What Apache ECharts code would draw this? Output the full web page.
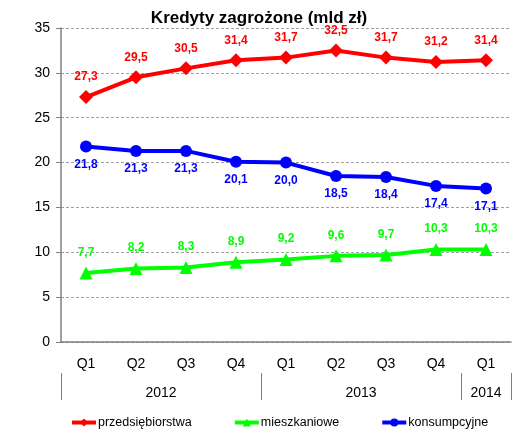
<!DOCTYPE html>
<html>
<head>
<meta charset="utf-8">
<script src="https://cdn.jsdelivr.net/npm/echarts@6/dist/echarts.min.js"></script>
<style>
  html, body { margin: 0; padding: 0; background: #fff; }
  #chart { width: 527px; height: 430px; }
</style>
</head>
<body>
<div id="chart"></div>
<script>
// Quarters and the year rows under them
const quarters = ['Q1', 'Q2', 'Q3', 'Q4', 'Q1', 'Q2', 'Q3', 'Q4', 'Q1'];
// Year row on a half-quarter grid: 19 points spanning the 9 quarters
const yearSlots = ['', '', '', '', '2012', '', '', '', '', '', '', '', '2013', '', '', '', '', '2014', ''];
const yearLabelIdx = [4, 12, 17];
const yearTickIdx = [0, 8, 16, 18];

// Values in mld zł
const przedsiebiorstwa = [27.3, 29.5, 30.5, 31.4, 31.7, 32.5, 31.7, 31.2, 31.4];
const mieszkaniowe = [7.7, 8.2, 8.3, 8.9, 9.2, 9.6, 9.7, 10.3, 10.3];
const konsumpcyjne = [21.8, 21.3, 21.3, 20.1, 20.0, 18.5, 18.4, 17.4, 17.1];

const fmt = p => p.value.toFixed(1).replace('.', ',');
const FONT = 'Liberation Sans, Arial, sans-serif';

const chart = echarts.init(document.getElementById('chart'));
const lbl = (color, pos, dist) => ({
  show: true, position: pos, distance: dist, formatter: fmt,
  color: color, fontFamily: FONT, fontWeight: 'bold', fontSize: 12
});

chart.setOption({
  animation: false,
  title: {
    text: 'Kredyty zagrożone (mld zł)',
    left: 254, top: 5, textAlign: 'center',
    textStyle: { fontFamily: FONT, fontWeight: 'bold', fontSize: 17, color: '#000' }
  },
  grid: { left: 61, right: 16, top: 28, bottom: 88 },
  legend: {
    left: 65, top: 411, itemGap: 41, itemWidth: 24, itemHeight: 10,
    lineStyle: { width: 4 },
    textStyle: { fontFamily: FONT, fontSize: 12.5, color: '#000', padding: [0, 0, 0, -3] },
    data: ['przedsiębiorstwa', 'mieszkaniowe', 'konsumpcyjne']
  },
  xAxis: [
    {
      type: 'category', data: quarters, boundaryGap: true,
      axisLine: { lineStyle: { color: '#808080', width: 1.5 } },
      axisTick: { length: 31, lineStyle: { color: '#808080' } },
      axisLabel: { margin: 15, fontFamily: FONT, fontSize: 14, color: '#000' }
    },
    {
      type: 'category', data: yearSlots, boundaryGap: false, position: 'bottom', offset: 31,
      axisLine: { show: false },
      axisTick: { show: true, length: 27, interval: i => yearTickIdx.includes(i), lineStyle: { color: '#808080' } },
      axisLabel: { margin: 13, interval: i => yearLabelIdx.includes(i), fontFamily: FONT, fontSize: 14, color: '#000' }
    }
  ],
  yAxis: {
    type: 'value', min: 0, max: 35, interval: 5,
    axisLine: { show: true, lineStyle: { color: '#808080', width: 1.5 } },
    axisTick: { show: true, length: 5, lineStyle: { color: '#808080' } },
    axisLabel: { margin: 11, fontFamily: FONT, fontSize: 14, color: '#000' },
    splitLine: { lineStyle: { color: '#a0a0a0', type: [3, 2] } }
  },
  series: [
    {
      name: 'przedsiębiorstwa', type: 'line', data: przedsiebiorstwa,
      symbol: 'diamond', symbolSize: 14,
      lineStyle: { color: '#ff0000', width: 4 }, itemStyle: { color: '#ff0000' },
      label: lbl('#ff0000', 'top', 7)
    },
    {
      name: 'mieszkaniowe', type: 'line', data: mieszkaniowe,
      symbol: 'triangle', symbolSize: 13,
      lineStyle: { color: '#00ff00', width: 4 }, itemStyle: { color: '#00ff00' },
      label: lbl('#00ff00', 'top', 8)
    },
    {
      name: 'konsumpcyjne', type: 'line', data: konsumpcyjne,
      symbol: 'circle', symbolSize: 12,
      lineStyle: { color: '#0000ff', width: 4 }, itemStyle: { color: '#0000ff' },
      label: lbl('#0000ff', 'bottom', 6)
    }
  ]
});
</script>
</body>
</html>
